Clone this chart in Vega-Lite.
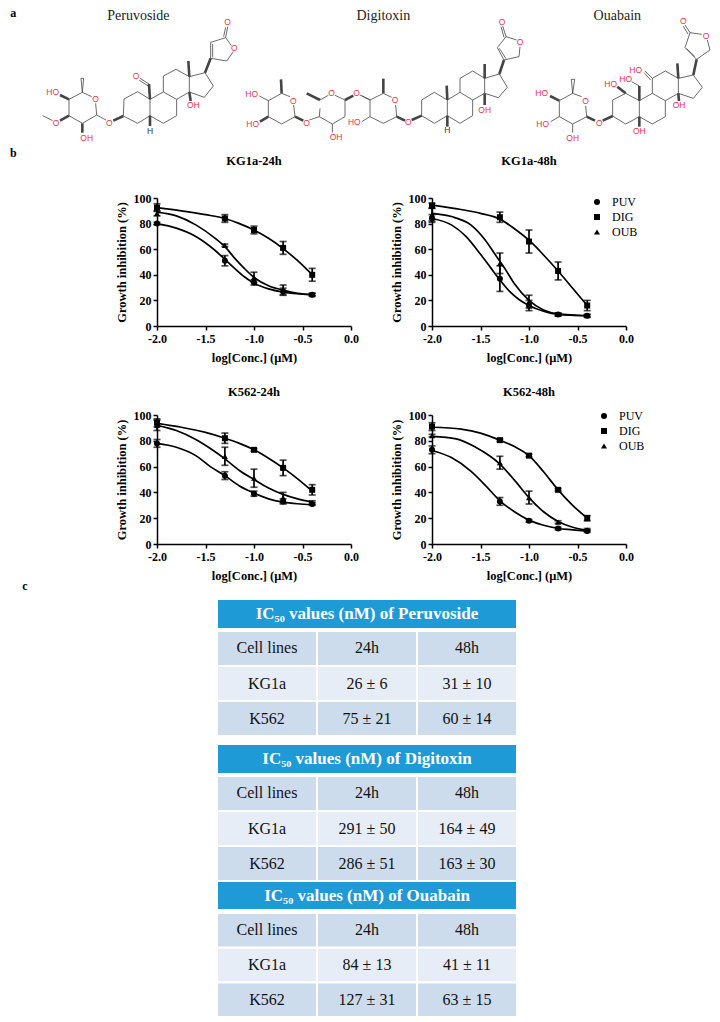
{"$schema":"https://vega.github.io/schema/vega-lite/v6.json","width":720,"height":1022,"padding":0,"autosize":"none","background":"white",
"config":{"view":{"stroke":null},"font":"Liberation Serif","axis":{"grid":false,"labelFont":"Liberation Serif","labelFontWeight":"bold","labelFontSize":12,"labelColor":"black","labelPadding":2,"labelOverlap":false,"labelFlush":false,"titleFont":"Liberation Serif","titleFontWeight":"bold","titleFontSize":12.5,"titleColor":"black","domainColor":"black","domainWidth":1.5,"tickColor":"black","tickWidth":1.5,"tickSize":4},"legend":{"labelFont":"Liberation Serif","labelFontSize":12,"labelColor":"black","symbolSize":36,"rowPadding":3,"labelOffset":9}},
"datasets":{
"curves":[
{"panel":"KG1a-24h","drug":"PUV","conc":-2,"pct":80},{"panel":"KG1a-24h","drug":"PUV","conc":-1.8,"pct":76.5},{"panel":"KG1a-24h","drug":"PUV","conc":-1.6,"pct":70},{"panel":"KG1a-24h","drug":"PUV","conc":-1.4,"pct":59},{"panel":"KG1a-24h","drug":"PUV","conc":-1.3,"pct":52},{"panel":"KG1a-24h","drug":"PUV","conc":-1.2,"pct":45},{"panel":"KG1a-24h","drug":"PUV","conc":-1.1,"pct":38.5},{"panel":"KG1a-24h","drug":"PUV","conc":-1,"pct":33.5},{"panel":"KG1a-24h","drug":"PUV","conc":-0.85,"pct":29},{"panel":"KG1a-24h","drug":"PUV","conc":-0.7,"pct":26.5},{"panel":"KG1a-24h","drug":"PUV","conc":-0.55,"pct":25.2},{"panel":"KG1a-24h","drug":"PUV","conc":-0.4,"pct":24.5},
{"panel":"KG1a-24h","drug":"DIG","conc":-2,"pct":92.5},{"panel":"KG1a-24h","drug":"DIG","conc":-1.75,"pct":90},{"panel":"KG1a-24h","drug":"DIG","conc":-1.5,"pct":87},{"panel":"KG1a-24h","drug":"DIG","conc":-1.3,"pct":84},{"panel":"KG1a-24h","drug":"DIG","conc":-1.15,"pct":80},{"panel":"KG1a-24h","drug":"DIG","conc":-1,"pct":75},{"panel":"KG1a-24h","drug":"DIG","conc":-0.85,"pct":68.5},{"panel":"KG1a-24h","drug":"DIG","conc":-0.7,"pct":60.5},{"panel":"KG1a-24h","drug":"DIG","conc":-0.55,"pct":51},{"panel":"KG1a-24h","drug":"DIG","conc":-0.4,"pct":40},
{"panel":"KG1a-24h","drug":"OUB","conc":-2,"pct":89},{"panel":"KG1a-24h","drug":"OUB","conc":-1.8,"pct":86},{"panel":"KG1a-24h","drug":"OUB","conc":-1.6,"pct":79},{"panel":"KG1a-24h","drug":"OUB","conc":-1.4,"pct":68.5},{"panel":"KG1a-24h","drug":"OUB","conc":-1.3,"pct":62},{"panel":"KG1a-24h","drug":"OUB","conc":-1.2,"pct":53},{"panel":"KG1a-24h","drug":"OUB","conc":-1.1,"pct":45},{"panel":"KG1a-24h","drug":"OUB","conc":-1,"pct":38},{"panel":"KG1a-24h","drug":"OUB","conc":-0.85,"pct":31.5},{"panel":"KG1a-24h","drug":"OUB","conc":-0.7,"pct":28},{"panel":"KG1a-24h","drug":"OUB","conc":-0.55,"pct":25.5},{"panel":"KG1a-24h","drug":"OUB","conc":-0.4,"pct":24.5},
{"panel":"KG1a-48h","drug":"PUV","conc":-2,"pct":84},{"panel":"KG1a-48h","drug":"PUV","conc":-1.8,"pct":79},{"panel":"KG1a-48h","drug":"PUV","conc":-1.65,"pct":70},{"panel":"KG1a-48h","drug":"PUV","conc":-1.5,"pct":56},{"panel":"KG1a-48h","drug":"PUV","conc":-1.4,"pct":46},{"panel":"KG1a-48h","drug":"PUV","conc":-1.3,"pct":36},{"panel":"KG1a-48h","drug":"PUV","conc":-1.2,"pct":27},{"panel":"KG1a-48h","drug":"PUV","conc":-1.1,"pct":20.5},{"panel":"KG1a-48h","drug":"PUV","conc":-1,"pct":16},{"panel":"KG1a-48h","drug":"PUV","conc":-0.85,"pct":11.5},{"panel":"KG1a-48h","drug":"PUV","conc":-0.7,"pct":9},{"panel":"KG1a-48h","drug":"PUV","conc":-0.4,"pct":8},
{"panel":"KG1a-48h","drug":"DIG","conc":-2,"pct":94.5},{"panel":"KG1a-48h","drug":"DIG","conc":-1.7,"pct":91},{"panel":"KG1a-48h","drug":"DIG","conc":-1.5,"pct":88},{"panel":"KG1a-48h","drug":"DIG","conc":-1.3,"pct":83.5},{"panel":"KG1a-48h","drug":"DIG","conc":-1.15,"pct":76},{"panel":"KG1a-48h","drug":"DIG","conc":-1,"pct":67},{"panel":"KG1a-48h","drug":"DIG","conc":-0.85,"pct":55.5},{"panel":"KG1a-48h","drug":"DIG","conc":-0.7,"pct":43},{"panel":"KG1a-48h","drug":"DIG","conc":-0.55,"pct":29.5},{"panel":"KG1a-48h","drug":"DIG","conc":-0.4,"pct":16},
{"panel":"KG1a-48h","drug":"OUB","conc":-2,"pct":88},{"panel":"KG1a-48h","drug":"OUB","conc":-1.8,"pct":85.5},{"panel":"KG1a-48h","drug":"OUB","conc":-1.6,"pct":79},{"panel":"KG1a-48h","drug":"OUB","conc":-1.45,"pct":67},{"panel":"KG1a-48h","drug":"OUB","conc":-1.35,"pct":56},{"panel":"KG1a-48h","drug":"OUB","conc":-1.25,"pct":45},{"panel":"KG1a-48h","drug":"OUB","conc":-1.15,"pct":33},{"panel":"KG1a-48h","drug":"OUB","conc":-1,"pct":20},{"panel":"KG1a-48h","drug":"OUB","conc":-0.85,"pct":12.5},{"panel":"KG1a-48h","drug":"OUB","conc":-0.7,"pct":9.5},{"panel":"KG1a-48h","drug":"OUB","conc":-0.4,"pct":8},
{"panel":"K562-24h","drug":"PUV","conc":-2,"pct":78},{"panel":"K562-24h","drug":"PUV","conc":-1.8,"pct":75},{"panel":"K562-24h","drug":"PUV","conc":-1.6,"pct":68.5},{"panel":"K562-24h","drug":"PUV","conc":-1.45,"pct":60},{"panel":"K562-24h","drug":"PUV","conc":-1.3,"pct":53},{"panel":"K562-24h","drug":"PUV","conc":-1.15,"pct":45},{"panel":"K562-24h","drug":"PUV","conc":-1,"pct":39.5},{"panel":"K562-24h","drug":"PUV","conc":-0.85,"pct":35},{"panel":"K562-24h","drug":"PUV","conc":-0.7,"pct":32.5},{"panel":"K562-24h","drug":"PUV","conc":-0.55,"pct":31.2},{"panel":"K562-24h","drug":"PUV","conc":-0.4,"pct":30.5},
{"panel":"K562-24h","drug":"DIG","conc":-2,"pct":93.5},{"panel":"K562-24h","drug":"DIG","conc":-1.75,"pct":90.5},{"panel":"K562-24h","drug":"DIG","conc":-1.5,"pct":86.5},{"panel":"K562-24h","drug":"DIG","conc":-1.3,"pct":82},{"panel":"K562-24h","drug":"DIG","conc":-1.15,"pct":78},{"panel":"K562-24h","drug":"DIG","conc":-1,"pct":73},{"panel":"K562-24h","drug":"DIG","conc":-0.85,"pct":66.5},{"panel":"K562-24h","drug":"DIG","conc":-0.7,"pct":59},{"panel":"K562-24h","drug":"DIG","conc":-0.55,"pct":50.5},{"panel":"K562-24h","drug":"DIG","conc":-0.4,"pct":41},
{"panel":"K562-24h","drug":"OUB","conc":-2,"pct":92},{"panel":"K562-24h","drug":"OUB","conc":-1.8,"pct":88},{"panel":"K562-24h","drug":"OUB","conc":-1.6,"pct":81},{"panel":"K562-24h","drug":"OUB","conc":-1.45,"pct":74},{"panel":"K562-24h","drug":"OUB","conc":-1.3,"pct":66},{"panel":"K562-24h","drug":"OUB","conc":-1.15,"pct":57},{"panel":"K562-24h","drug":"OUB","conc":-1,"pct":50},{"panel":"K562-24h","drug":"OUB","conc":-0.85,"pct":43.5},{"panel":"K562-24h","drug":"OUB","conc":-0.7,"pct":38.5},{"panel":"K562-24h","drug":"OUB","conc":-0.55,"pct":35},{"panel":"K562-24h","drug":"OUB","conc":-0.4,"pct":32.5},
{"panel":"K562-48h","drug":"PUV","conc":-2,"pct":72.5},{"panel":"K562-48h","drug":"PUV","conc":-1.8,"pct":67},{"panel":"K562-48h","drug":"PUV","conc":-1.6,"pct":56.5},{"panel":"K562-48h","drug":"PUV","conc":-1.45,"pct":45.5},{"panel":"K562-48h","drug":"PUV","conc":-1.3,"pct":33.5},{"panel":"K562-48h","drug":"PUV","conc":-1.15,"pct":25},{"panel":"K562-48h","drug":"PUV","conc":-1,"pct":18.5},{"panel":"K562-48h","drug":"PUV","conc":-0.85,"pct":14.5},{"panel":"K562-48h","drug":"PUV","conc":-0.7,"pct":12},{"panel":"K562-48h","drug":"PUV","conc":-0.55,"pct":11},{"panel":"K562-48h","drug":"PUV","conc":-0.4,"pct":10},
{"panel":"K562-48h","drug":"DIG","conc":-2,"pct":90.5},{"panel":"K562-48h","drug":"DIG","conc":-1.7,"pct":89},{"panel":"K562-48h","drug":"DIG","conc":-1.5,"pct":86},{"panel":"K562-48h","drug":"DIG","conc":-1.3,"pct":80.5},{"panel":"K562-48h","drug":"DIG","conc":-1.15,"pct":75.5},{"panel":"K562-48h","drug":"DIG","conc":-1,"pct":68.5},{"panel":"K562-48h","drug":"DIG","conc":-0.85,"pct":56},{"panel":"K562-48h","drug":"DIG","conc":-0.7,"pct":42},{"panel":"K562-48h","drug":"DIG","conc":-0.55,"pct":30},{"panel":"K562-48h","drug":"DIG","conc":-0.4,"pct":20},
{"panel":"K562-48h","drug":"OUB","conc":-2,"pct":83.5},{"panel":"K562-48h","drug":"OUB","conc":-1.75,"pct":81.5},{"panel":"K562-48h","drug":"OUB","conc":-1.55,"pct":75},{"panel":"K562-48h","drug":"OUB","conc":-1.4,"pct":68},{"panel":"K562-48h","drug":"OUB","conc":-1.3,"pct":62},{"panel":"K562-48h","drug":"OUB","conc":-1.15,"pct":49.5},{"panel":"K562-48h","drug":"OUB","conc":-1,"pct":36},{"panel":"K562-48h","drug":"OUB","conc":-0.85,"pct":25},{"panel":"K562-48h","drug":"OUB","conc":-0.7,"pct":17.5},{"panel":"K562-48h","drug":"OUB","conc":-0.55,"pct":13},{"panel":"K562-48h","drug":"OUB","conc":-0.4,"pct":10.5}
],
"obs":[
{"panel":"KG1a-24h","drug":"PUV","conc":-2,"pct":80,"low":79,"high":81},{"panel":"KG1a-24h","drug":"PUV","conc":-1.3,"pct":51,"low":47,"high":55},{"panel":"KG1a-24h","drug":"PUV","conc":-1,"pct":34,"low":32,"high":36},{"panel":"KG1a-24h","drug":"PUV","conc":-0.7,"pct":27,"low":24.5,"high":29.5},{"panel":"KG1a-24h","drug":"PUV","conc":-0.4,"pct":24.5,"low":23.5,"high":25.5},
{"panel":"KG1a-24h","drug":"DIG","conc":-2,"pct":92.5,"low":89.5,"high":95.5},{"panel":"KG1a-24h","drug":"DIG","conc":-1.3,"pct":84,"low":81,"high":87},{"panel":"KG1a-24h","drug":"DIG","conc":-1,"pct":75,"low":72,"high":78},{"panel":"KG1a-24h","drug":"DIG","conc":-0.7,"pct":61,"low":56,"high":66},{"panel":"KG1a-24h","drug":"DIG","conc":-0.4,"pct":40,"low":35,"high":45},
{"panel":"KG1a-24h","drug":"OUB","conc":-2,"pct":88,"low":86,"high":90},{"panel":"KG1a-24h","drug":"OUB","conc":-1.3,"pct":63,"low":62,"high":64},{"panel":"KG1a-24h","drug":"OUB","conc":-1,"pct":38,"low":34,"high":42},{"panel":"KG1a-24h","drug":"OUB","conc":-0.7,"pct":28,"low":24,"high":32},{"panel":"KG1a-24h","drug":"OUB","conc":-0.4,"pct":24.5,"low":23.5,"high":25.5},
{"panel":"KG1a-48h","drug":"PUV","conc":-2,"pct":84,"low":81,"high":87},{"panel":"KG1a-48h","drug":"PUV","conc":-1.3,"pct":37,"low":27,"high":47},{"panel":"KG1a-48h","drug":"PUV","conc":-1,"pct":16,"low":12,"high":20},{"panel":"KG1a-48h","drug":"PUV","conc":-0.7,"pct":9,"low":8,"high":10},{"panel":"KG1a-48h","drug":"PUV","conc":-0.4,"pct":8,"low":7,"high":9},
{"panel":"KG1a-48h","drug":"DIG","conc":-2,"pct":94,"low":92,"high":96},{"panel":"KG1a-48h","drug":"DIG","conc":-1.3,"pct":85,"low":81,"high":89},{"panel":"KG1a-48h","drug":"DIG","conc":-1,"pct":66,"low":57,"high":75},{"panel":"KG1a-48h","drug":"DIG","conc":-0.7,"pct":43,"low":36,"high":50},{"panel":"KG1a-48h","drug":"DIG","conc":-0.4,"pct":16,"low":12,"high":20},
{"panel":"KG1a-48h","drug":"OUB","conc":-2,"pct":87,"low":82,"high":92},{"panel":"KG1a-48h","drug":"OUB","conc":-1.3,"pct":49,"low":41,"high":57},{"panel":"KG1a-48h","drug":"OUB","conc":-1,"pct":19,"low":14,"high":24},{"panel":"KG1a-48h","drug":"OUB","conc":-0.7,"pct":9,"low":8,"high":10},{"panel":"KG1a-48h","drug":"OUB","conc":-0.4,"pct":8,"low":7,"high":9},
{"panel":"K562-24h","drug":"PUV","conc":-2,"pct":78,"low":75,"high":81},{"panel":"K562-24h","drug":"PUV","conc":-1.3,"pct":53,"low":50,"high":56},{"panel":"K562-24h","drug":"PUV","conc":-1,"pct":39,"low":37,"high":41},{"panel":"K562-24h","drug":"PUV","conc":-0.7,"pct":33,"low":31,"high":35},{"panel":"K562-24h","drug":"PUV","conc":-0.4,"pct":31,"low":30,"high":32},
{"panel":"K562-24h","drug":"DIG","conc":-2,"pct":94,"low":91,"high":97},{"panel":"K562-24h","drug":"DIG","conc":-1.3,"pct":82,"low":78,"high":86},{"panel":"K562-24h","drug":"DIG","conc":-1,"pct":73,"low":72,"high":74},{"panel":"K562-24h","drug":"DIG","conc":-0.7,"pct":59,"low":53,"high":65},{"panel":"K562-24h","drug":"DIG","conc":-0.4,"pct":42,"low":38,"high":46},
{"panel":"K562-24h","drug":"OUB","conc":-2,"pct":92,"low":88,"high":96},{"panel":"K562-24h","drug":"OUB","conc":-1.3,"pct":68,"low":61,"high":75},{"panel":"K562-24h","drug":"OUB","conc":-1,"pct":51,"low":44,"high":58},{"panel":"K562-24h","drug":"OUB","conc":-0.7,"pct":36,"low":32,"high":40},{"panel":"K562-24h","drug":"OUB","conc":-0.4,"pct":32,"low":30.5,"high":33.5},
{"panel":"K562-48h","drug":"PUV","conc":-2,"pct":73,"low":70,"high":76},{"panel":"K562-48h","drug":"PUV","conc":-1.3,"pct":33,"low":30,"high":36},{"panel":"K562-48h","drug":"PUV","conc":-1,"pct":18,"low":17,"high":19},{"panel":"K562-48h","drug":"PUV","conc":-0.7,"pct":12,"low":11,"high":13},{"panel":"K562-48h","drug":"PUV","conc":-0.4,"pct":10,"low":9,"high":11},
{"panel":"K562-48h","drug":"DIG","conc":-2,"pct":91,"low":88,"high":94},{"panel":"K562-48h","drug":"DIG","conc":-1.3,"pct":80.5,"low":79.5,"high":81.5},{"panel":"K562-48h","drug":"DIG","conc":-1,"pct":68.5,"low":67.5,"high":69.5},{"panel":"K562-48h","drug":"DIG","conc":-0.7,"pct":42,"low":41,"high":43},{"panel":"K562-48h","drug":"DIG","conc":-0.4,"pct":20,"low":18,"high":22},
{"panel":"K562-48h","drug":"OUB","conc":-2,"pct":84,"low":83,"high":85},{"panel":"K562-48h","drug":"OUB","conc":-1.3,"pct":63,"low":58,"high":68},{"panel":"K562-48h","drug":"OUB","conc":-1,"pct":36,"low":31,"high":41},{"panel":"K562-48h","drug":"OUB","conc":-0.7,"pct":17,"low":16,"high":18},{"panel":"K562-48h","drug":"OUB","conc":-0.4,"pct":11,"low":10,"high":12}
],
"cells":[
{"table":"Peruvoside","row":"Cell lines","col":"Cell lines","text":"Cell lines"},{"table":"Peruvoside","row":"Cell lines","col":"24h","text":"24h"},{"table":"Peruvoside","row":"Cell lines","col":"48h","text":"48h"},{"table":"Peruvoside","row":"KG1a","col":"Cell lines","text":"KG1a"},{"table":"Peruvoside","row":"KG1a","col":"24h","text":"26 ± 6"},{"table":"Peruvoside","row":"KG1a","col":"48h","text":"31 ± 10"},{"table":"Peruvoside","row":"K562","col":"Cell lines","text":"K562"},{"table":"Peruvoside","row":"K562","col":"24h","text":"75 ± 21"},{"table":"Peruvoside","row":"K562","col":"48h","text":"60 ± 14"},
{"table":"Digitoxin","row":"Cell lines","col":"Cell lines","text":"Cell lines"},{"table":"Digitoxin","row":"Cell lines","col":"24h","text":"24h"},{"table":"Digitoxin","row":"Cell lines","col":"48h","text":"48h"},{"table":"Digitoxin","row":"KG1a","col":"Cell lines","text":"KG1a"},{"table":"Digitoxin","row":"KG1a","col":"24h","text":"291 ± 50"},{"table":"Digitoxin","row":"KG1a","col":"48h","text":"164 ± 49"},{"table":"Digitoxin","row":"K562","col":"Cell lines","text":"K562"},{"table":"Digitoxin","row":"K562","col":"24h","text":"286 ± 51"},{"table":"Digitoxin","row":"K562","col":"48h","text":"163 ± 30"},
{"table":"Ouabain","row":"Cell lines","col":"Cell lines","text":"Cell lines"},{"table":"Ouabain","row":"Cell lines","col":"24h","text":"24h"},{"table":"Ouabain","row":"Cell lines","col":"48h","text":"48h"},{"table":"Ouabain","row":"KG1a","col":"Cell lines","text":"KG1a"},{"table":"Ouabain","row":"KG1a","col":"24h","text":"84 ± 13"},{"table":"Ouabain","row":"KG1a","col":"48h","text":"41 ± 11"},{"table":"Ouabain","row":"K562","col":"Cell lines","text":"K562"},{"table":"Ouabain","row":"K562","col":"24h","text":"127 ± 31"},{"table":"Ouabain","row":"K562","col":"48h","text":"63 ± 15"}
],
"bonds":[
{"kind":"bond","x":370,"y":348,"x2":372,"y2":297},{"kind":"bond","x":372,"y":297,"x2":413,"y2":275},{"kind":"bond","x":413,"y":275,"x2":450,"y2":298},{"kind":"bond","x":450,"y":298,"x2":450,"y2":347},{"kind":"bond","x":450,"y":347,"x2":413,"y2":370},{"kind":"bond","x":413,"y":370,"x2":370,"y2":348},{"kind":"bond","x":450,"y":298,"x2":490,"y2":276},{"kind":"bond","x":490,"y":276,"x2":530,"y2":298},{"kind":"bond","x":530,"y":298,"x2":530,"y2":347},{"kind":"bond","x":530,"y":347,"x2":490,"y2":370},{"kind":"bond","x":490,"y":370,"x2":450,"y2":347},{"kind":"bond","x":490,"y":276,"x2":490,"y2":228},{"kind":"bond","x":490,"y":228,"x2":528,"y2":208},{"kind":"bond","x":528,"y":208,"x2":568,"y2":230},{"kind":"bond","x":568,"y":230,"x2":568,"y2":276},{"kind":"bond","x":568,"y":276,"x2":530,"y2":298},{"kind":"bond","x":568,"y":230,"x2":615,"y2":218},{"kind":"bond","x":615,"y":218,"x2":640,"y2":258},{"kind":"bond","x":640,"y":258,"x2":613,"y2":292},{"kind":"bond","x":613,"y":292,"x2":568,"y2":276},{"kind":"wedge","x":568,"y":230,"x2":565,"y2":183},{"kind":"wedge","x":568,"y":276,"x2":572,"y2":303},{"kind":"wedge","x":615,"y":218,"x2":632,"y2":175},{"kind":"bond","x":632,"y":175,"x2":632,"y2":127},{"kind":"bond","x":638,"y":172,"x2":638,"y2":132},{"kind":"bond","x":632,"y":127,"x2":677,"y2":113},{"kind":"bond","x":677,"y":113,"x2":694,"y2":137},{"kind":"bond","x":700,"y":155,"x2":680,"y2":183},{"kind":"bond","x":680,"y":183,"x2":632,"y2":175},{"kind":"bond","x":677,"y":113,"x2":683,"y2":80},{"kind":"bond","x":671,"y":110,"x2":677,"y2":82},{"kind":"wedge","x":450,"y":298,"x2":447,"y2":252},{"kind":"bond","x":447,"y":252,"x2":420,"y2":235},{"kind":"bond","x":445,"y":258,"x2":418,"y2":241},{"kind":"wedge","x":450,"y":347,"x2":450,"y2":378},{"kind":"wedge","x":370,"y":348,"x2":340,"y2":362},{"kind":"bond","x":318,"y":360,"x2":290,"y2":345},{"kind":"bond","x":290,"y":345,"x2":287,"y2":310},{"kind":"bond","x":275,"y":290,"x2":247,"y2":277},{"kind":"bond","x":247,"y":277,"x2":207,"y2":298},{"kind":"bond","x":207,"y":298,"x2":207,"y2":347},{"kind":"bond","x":207,"y":347,"x2":247,"y2":370},{"kind":"bond","x":247,"y":370,"x2":290,"y2":345},{"kind":"bond","x":247,"y":277,"x2":243,"y2":235},{"kind":"bond","x":247,"y":277,"x2":251,"y2":235},{"kind":"bond","x":243,"y":235,"x2":251,"y2":235},{"kind":"wedge","x":207,"y":298,"x2":180,"y2":285},{"kind":"wedge","x":207,"y":347,"x2":180,"y2":362},{"kind":"bond","x":158,"y":362,"x2":128,"y2":347},{"kind":"wedge","x":247,"y":370,"x2":247,"y2":398},
{"kind":"bond","x":885,"y":350,"x2":881,"y2":315},{"kind":"bond","x":870,"y":290,"x2":845,"y2":280},{"kind":"bond","x":845,"y":280,"x2":805,"y2":302},{"kind":"bond","x":805,"y":302,"x2":805,"y2":350},{"kind":"bond","x":805,"y":350,"x2":845,"y2":372},{"kind":"bond","x":845,"y":372,"x2":885,"y2":350},{"kind":"wedge","x":845,"y":280,"x2":843,"y2":238},{"kind":"bond","x":805,"y":302,"x2":778,"y2":288},{"kind":"wedge","x":805,"y":350,"x2":780,"y2":365},{"kind":"wedge","x":885,"y":350,"x2":910,"y2":362},{"kind":"bond","x":928,"y":360,"x2":958,"y2":350},{"kind":"bond","x":960,"y":300,"x2":985,"y2":286},{"kind":"bond","x":1005,"y":286,"x2":1035,"y2":300},{"kind":"bond","x":1035,"y":300,"x2":1035,"y2":350},{"kind":"bond","x":1035,"y":350,"x2":997,"y2":372},{"kind":"bond","x":997,"y":372,"x2":958,"y2":350},{"kind":"bond","x":958,"y":350,"x2":960,"y2":325},{"kind":"wedge","x":960,"y":300,"x2":920,"y2":280},{"kind":"wedge","x":1035,"y":300,"x2":1060,"y2":287},{"kind":"bond","x":1080,"y":285,"x2":1110,"y2":300},{"kind":"bond","x":997,"y":372,"x2":997,"y2":398},{"kind":"bond","x":1110,"y":300,"x2":1150,"y2":280},{"kind":"bond","x":1150,"y":280,"x2":1175,"y2":292},{"kind":"bond","x":1187,"y":315,"x2":1190,"y2":350},{"kind":"bond","x":1190,"y":350,"x2":1150,"y2":370},{"kind":"bond","x":1150,"y":370,"x2":1110,"y2":350},{"kind":"bond","x":1110,"y":350,"x2":1110,"y2":300},{"kind":"wedge","x":1150,"y":280,"x2":1150,"y2":236},{"kind":"wedge","x":1190,"y":350,"x2":1215,"y2":362},{"kind":"bond","x":1110,"y":350,"x2":1085,"y2":365},{"kind":"bond","x":1110,"y":300,"x2":1085,"y2":287},{"kind":"wedge","x":1235,"y":360,"x2":1265,"y2":347},{"kind":"bond","x":1265,"y":347,"x2":1265,"y2":300},{"kind":"bond","x":1265,"y":300,"x2":1303,"y2":277},{"kind":"bond","x":1303,"y":277,"x2":1342,"y2":300},{"kind":"bond","x":1342,"y":300,"x2":1342,"y2":347},{"kind":"bond","x":1342,"y":347,"x2":1303,"y2":370},{"kind":"bond","x":1303,"y":370,"x2":1265,"y2":347},{"kind":"bond","x":1342,"y":300,"x2":1380,"y2":277},{"kind":"bond","x":1380,"y":277,"x2":1418,"y2":300},{"kind":"bond","x":1418,"y":300,"x2":1418,"y2":347},{"kind":"bond","x":1418,"y":347,"x2":1380,"y2":370},{"kind":"bond","x":1380,"y":370,"x2":1342,"y2":347},{"kind":"bond","x":1380,"y":277,"x2":1380,"y2":235},{"kind":"bond","x":1380,"y":235,"x2":1418,"y2":213},{"kind":"bond","x":1418,"y":213,"x2":1454,"y2":235},{"kind":"bond","x":1454,"y":235,"x2":1454,"y2":280},{"kind":"bond","x":1454,"y":280,"x2":1418,"y2":300},{"kind":"bond","x":1454,"y":235,"x2":1498,"y2":222},{"kind":"bond","x":1498,"y":222,"x2":1522,"y2":262},{"kind":"bond","x":1522,"y":262,"x2":1495,"y2":293},{"kind":"bond","x":1495,"y":293,"x2":1454,"y2":280},{"kind":"wedge","x":1342,"y":300,"x2":1340,"y2":257},{"kind":"wedge","x":1342,"y":347,"x2":1342,"y2":380},{"kind":"wedge","x":1454,"y":235,"x2":1454,"y2":192},{"kind":"wedge","x":1454,"y":280,"x2":1454,"y2":315},{"kind":"wedge","x":1498,"y":222,"x2":1512,"y2":180},{"kind":"bond","x":1512,"y":180,"x2":1492,"y2":143},{"kind":"bond","x":1518,"y":176,"x2":1498,"y2":145},{"kind":"bond","x":1492,"y":143,"x2":1518,"y2":110},{"kind":"bond","x":1518,"y":110,"x2":1550,"y2":120},{"kind":"bond","x":1560,"y":140,"x2":1557,"y2":170},{"kind":"bond","x":1557,"y":170,"x2":1512,"y2":180},{"kind":"bond","x":1518,"y":110,"x2":1508,"y2":78},{"kind":"bond","x":1512,"y":112,"x2":1503,"y2":80},
{"kind":"bond","x":1760,"y":350,"x2":1757,"y2":318},{"kind":"bond","x":1745,"y":290,"x2":1718,"y2":280},{"kind":"bond","x":1718,"y":280,"x2":1678,"y2":302},{"kind":"bond","x":1678,"y":302,"x2":1678,"y2":350},{"kind":"bond","x":1678,"y":350,"x2":1718,"y2":372},{"kind":"bond","x":1718,"y":372,"x2":1760,"y2":350},{"kind":"bond","x":1718,"y":280,"x2":1714,"y2":238},{"kind":"bond","x":1718,"y":280,"x2":1724,"y2":238},{"kind":"bond","x":1714,"y":238,"x2":1724,"y2":238},{"kind":"wedge","x":1678,"y":302,"x2":1650,"y2":288},{"kind":"bond","x":1678,"y":350,"x2":1652,"y2":365},{"kind":"bond","x":1718,"y":372,"x2":1718,"y2":398},{"kind":"wedge","x":1760,"y":350,"x2":1785,"y2":362},{"kind":"wedge","x":1808,"y":362,"x2":1838,"y2":348},{"kind":"bond","x":1838,"y":348,"x2":1838,"y2":300},{"kind":"bond","x":1838,"y":300,"x2":1877,"y2":280},{"kind":"bond","x":1877,"y":280,"x2":1918,"y2":302},{"kind":"bond","x":1918,"y":302,"x2":1918,"y2":350},{"kind":"bond","x":1918,"y":350,"x2":1877,"y2":372},{"kind":"bond","x":1877,"y":372,"x2":1838,"y2":348},{"kind":"bond","x":1918,"y":302,"x2":1957,"y2":280},{"kind":"bond","x":1957,"y":280,"x2":1996,"y2":302},{"kind":"bond","x":1996,"y":302,"x2":1996,"y2":350},{"kind":"bond","x":1996,"y":350,"x2":1957,"y2":372},{"kind":"bond","x":1957,"y":372,"x2":1918,"y2":350},{"kind":"bond","x":1957,"y":280,"x2":1957,"y2":235},{"kind":"bond","x":1957,"y":235,"x2":1996,"y2":213},{"kind":"bond","x":1996,"y":213,"x2":2035,"y2":235},{"kind":"bond","x":2035,"y":235,"x2":2035,"y2":280},{"kind":"bond","x":2035,"y":280,"x2":1996,"y2":302},{"kind":"bond","x":2035,"y":235,"x2":2080,"y2":225},{"kind":"bond","x":2080,"y":225,"x2":2107,"y2":262},{"kind":"bond","x":2107,"y":262,"x2":2080,"y2":295},{"kind":"bond","x":2080,"y":295,"x2":2035,"y2":280},{"kind":"wedge","x":2035,"y":235,"x2":2032,"y2":190},{"kind":"wedge","x":2035,"y":280,"x2":2037,"y2":303},{"kind":"wedge","x":2080,"y":225,"x2":2090,"y2":178},{"kind":"bond","x":2090,"y":178,"x2":2055,"y2":143},{"kind":"bond","x":2085,"y":170,"x2":2060,"y2":146},{"kind":"bond","x":2055,"y":143,"x2":2070,"y2":98},{"kind":"bond","x":2070,"y":98,"x2":2105,"y2":103},{"kind":"bond","x":2122,"y":120,"x2":2130,"y2":150},{"kind":"bond","x":2130,"y":150,"x2":2090,"y2":178},{"kind":"bond","x":2070,"y":98,"x2":2055,"y2":75},{"kind":"bond","x":2064,"y":102,"x2":2050,"y2":79},{"kind":"wedge","x":1877,"y":280,"x2":1852,"y2":260},{"kind":"wedge","x":1918,"y":302,"x2":1918,"y2":258},{"kind":"bond","x":1918,"y":258,"x2":1895,"y2":245},{"kind":"bond","x":1957,"y":235,"x2":1935,"y2":213},{"kind":"bond","x":1952,"y":240,"x2":1932,"y2":218},{"kind":"wedge","x":1918,"y":350,"x2":1918,"y2":380}
],
"atoms":[
{"atom":"HO","x":158,"y":276,"el":"hetero"},{"atom":"O","x":287,"y":298,"el":"hetero"},{"atom":"O","x":328,"y":368,"el":"hetero"},{"atom":"O","x":168,"y":368,"el":"hetero"},{"atom":"OH","x":260,"y":413,"el":"hetero"},{"atom":"O","x":408,"y":228,"el":"hetero"},{"atom":"OH","x":580,"y":316,"el":"hetero"},{"atom":"O","x":683,"y":65,"el":"hetero"},{"atom":"O","x":703,"y":145,"el":"hetero"},{"atom":"H","x":450,"y":392,"el":"carbon"},
{"atom":"HO","x":755,"y":282,"el":"hetero"},{"atom":"O","x":880,"y":302,"el":"hetero"},{"atom":"HO","x":758,"y":372,"el":"hetero"},{"atom":"O","x":920,"y":368,"el":"hetero"},{"atom":"O","x":995,"y":280,"el":"hetero"},{"atom":"O","x":1070,"y":278,"el":"hetero"},{"atom":"OH","x":1008,"y":412,"el":"hetero"},{"atom":"O","x":1185,"y":300,"el":"hetero"},{"atom":"HO","x":1063,"y":367,"el":"hetero"},{"atom":"O","x":1225,"y":367,"el":"hetero"},{"atom":"H","x":1342,"y":390,"el":"carbon"},{"atom":"OH","x":1454,"y":330,"el":"hetero"},{"atom":"O","x":1560,"y":125,"el":"hetero"},{"atom":"O","x":1506,"y":65,"el":"hetero"},
{"atom":"HO","x":1625,"y":280,"el":"hetero"},{"atom":"O","x":1757,"y":302,"el":"hetero"},{"atom":"HO","x":1628,"y":372,"el":"hetero"},{"atom":"OH","x":1718,"y":415,"el":"hetero"},{"atom":"O","x":1798,"y":370,"el":"hetero"},{"atom":"HO","x":1832,"y":252,"el":"hetero"},{"atom":"HO","x":1877,"y":237,"el":"hetero"},{"atom":"HO","x":1907,"y":210,"el":"hetero"},{"atom":"OH","x":1918,"y":393,"el":"hetero"},{"atom":"OH","x":2037,"y":315,"el":"hetero"},{"atom":"O","x":2050,"y":62,"el":"hetero"},{"atom":"O","x":2118,"y":107,"el":"hetero"}
]
},
"layer":[
{"layer":[
{"data":{"name":"bonds"},"mark":{"type":"rule","color":"#444444"},"encoding":{"x":{"field":"x","type":"quantitative","scale":{"domain":[0,2160],"range":[0,720],"nice":false},"axis":null},"y":{"field":"y","type":"quantitative","scale":{"domain":[0,3066],"range":[0,1022],"nice":false},"axis":null},"x2":{"field":"x2"},"y2":{"field":"y2"},"strokeWidth":{"field":"kind","type":"nominal","scale":{"domain":["bond","wedge"],"range":[0.8,2.6]},"legend":null}}},
{"data":{"name":"atoms"},"mark":{"type":"text","font":"Liberation Sans","fontSize":8.5,"align":"center","baseline":"middle"},"encoding":{"x":{"field":"x","type":"quantitative","axis":null},"y":{"field":"y","type":"quantitative","axis":null},"text":{"field":"atom"},"fill":{"condition":{"test":"datum.el==='carbon'","value":"#333333"},"value":"#F0304A"}}},
{"data":{"values":[{"label":"Peruvoside","x":415,"y":47},{"label":"Digitoxin","x":1150,"y":47},{"label":"Ouabain","x":1852,"y":47}]},"mark":{"type":"text","font":"Liberation Serif","fontSize":14,"color":"#222222","align":"center","baseline":"middle"},"encoding":{"x":{"field":"x","type":"quantitative","axis":null},"y":{"field":"y","type":"quantitative","axis":null},"text":{"field":"label"}}},
{"data":{"values":[{"label":"a","x":40,"y":38},{"label":"b","x":40,"y":460},{"label":"c","x":75,"y":1758}]},"mark":{"type":"text","font":"Liberation Serif","fontSize":12,"fontWeight":"bold","color":"black","align":"center","baseline":"middle"},"encoding":{"x":{"field":"x","type":"quantitative","axis":null},"y":{"field":"y","type":"quantitative","axis":null},"text":{"field":"label"}}}
]},
{"layer":[
{"data":{"name":"curves"},"transform":[{"filter":"datum.panel==='KG1a-24h'"}],"mark":{"type":"line","interpolate":"monotone","color":"black","strokeWidth":1.7},"encoding":{"x":{"field":"conc","type":"quantitative","scale":{"domain":[-2,0],"range":[157,351],"nice":false},"axis":{"orient":"bottom","offset":-696,"values":[-2,-1.5,-1,-0.5,0],"format":".1f","labelExpr":"replace(datum.label,'−','-')","title":"log[Conc.] (μM)","labelPadding":3,"titlePadding":7}},"y":{"field":"pct","type":"quantitative","scale":{"domain":[0,100],"range":[326,198],"nice":false},"axis":{"orient":"left","offset":-157,"values":[0,20,40,60,80,100],"title":"Growth inhibition (%)","titlePadding":5}},"detail":{"field":"drug"}}},
{"data":{"name":"obs"},"transform":[{"filter":"datum.panel==='KG1a-24h'"}],"mark":{"type":"rule","color":"black","strokeWidth":1.7},"encoding":{"x":{"field":"conc","type":"quantitative"},"y":{"field":"low","type":"quantitative"},"y2":{"field":"high"}}},
{"data":{"name":"obs"},"transform":[{"filter":"datum.panel==='KG1a-24h'"}],"mark":{"type":"tick","orient":"horizontal","size":7,"thickness":1.7,"color":"black"},"encoding":{"x":{"field":"conc","type":"quantitative"},"y":{"field":"low","type":"quantitative"}}},
{"data":{"name":"obs"},"transform":[{"filter":"datum.panel==='KG1a-24h'"}],"mark":{"type":"tick","orient":"horizontal","size":7,"thickness":1.7,"color":"black"},"encoding":{"x":{"field":"conc","type":"quantitative"},"y":{"field":"high","type":"quantitative"}}},
{"data":{"name":"obs"},"transform":[{"filter":"datum.panel==='KG1a-24h'"}],"mark":{"type":"point","filled":true,"size":36,"opacity":1,"color":"black"},"encoding":{"x":{"field":"conc","type":"quantitative"},"y":{"field":"pct","type":"quantitative"},"shape":{"field":"drug","type":"nominal","scale":{"domain":["PUV","DIG","OUB"],"range":["circle","square","triangle-up"]},"legend":null}}},
{"data":{"values":[{"panel":"KG1a-24h"}]},"mark":{"type":"text","font":"Liberation Serif","fontWeight":"bold","fontSize":12.5,"color":"black","baseline":"middle"},"encoding":{"x":{"datum":-1,"type":"quantitative"},"y":{"datum":129,"type":"quantitative"},"text":{"field":"panel"}}}
]},
{"layer":[
{"data":{"name":"curves"},"transform":[{"filter":"datum.panel==='KG1a-48h'"}],"mark":{"type":"line","interpolate":"monotone","color":"black","strokeWidth":1.7},"encoding":{"x":{"field":"conc","type":"quantitative","scale":{"domain":[-2,0],"range":[432,626],"nice":false},"axis":{"orient":"bottom","offset":-696,"values":[-2,-1.5,-1,-0.5,0],"format":".1f","labelExpr":"replace(datum.label,'−','-')","title":"log[Conc.] (μM)","labelPadding":3,"titlePadding":7}},"y":{"field":"pct","type":"quantitative","scale":{"domain":[0,100],"range":[326,198],"nice":false},"axis":{"orient":"left","offset":-432,"values":[0,20,40,60,80,100],"title":"Growth inhibition (%)","titlePadding":5}},"detail":{"field":"drug"}}},
{"data":{"name":"obs"},"transform":[{"filter":"datum.panel==='KG1a-48h'"}],"mark":{"type":"rule","color":"black","strokeWidth":1.7},"encoding":{"x":{"field":"conc","type":"quantitative"},"y":{"field":"low","type":"quantitative"},"y2":{"field":"high"}}},
{"data":{"name":"obs"},"transform":[{"filter":"datum.panel==='KG1a-48h'"}],"mark":{"type":"tick","orient":"horizontal","size":7,"thickness":1.7,"color":"black"},"encoding":{"x":{"field":"conc","type":"quantitative"},"y":{"field":"low","type":"quantitative"}}},
{"data":{"name":"obs"},"transform":[{"filter":"datum.panel==='KG1a-48h'"}],"mark":{"type":"tick","orient":"horizontal","size":7,"thickness":1.7,"color":"black"},"encoding":{"x":{"field":"conc","type":"quantitative"},"y":{"field":"high","type":"quantitative"}}},
{"data":{"name":"obs"},"transform":[{"filter":"datum.panel==='KG1a-48h'"}],"mark":{"type":"point","filled":true,"size":36,"opacity":1,"color":"black"},"encoding":{"x":{"field":"conc","type":"quantitative"},"y":{"field":"pct","type":"quantitative"},"shape":{"field":"drug","type":"nominal","scale":{"domain":["PUV","DIG","OUB"],"range":["circle","square","triangle-up"]},"legend":{"orient":"none","legendX":591,"legendY":196,"title":null}}}},
{"data":{"values":[{"panel":"KG1a-48h"}]},"mark":{"type":"text","font":"Liberation Serif","fontWeight":"bold","fontSize":12.5,"color":"black","baseline":"middle"},"encoding":{"x":{"datum":-1,"type":"quantitative"},"y":{"datum":129,"type":"quantitative"},"text":{"field":"panel"}}}
]},
{"layer":[
{"data":{"name":"curves"},"transform":[{"filter":"datum.panel==='K562-24h'"}],"mark":{"type":"line","interpolate":"monotone","color":"black","strokeWidth":1.7},"encoding":{"x":{"field":"conc","type":"quantitative","scale":{"domain":[-2,0],"range":[157,351],"nice":false},"axis":{"orient":"bottom","offset":-478,"values":[-2,-1.5,-1,-0.5,0],"format":".1f","labelExpr":"replace(datum.label,'−','-')","title":"log[Conc.] (μM)","labelPadding":3,"titlePadding":7}},"y":{"field":"pct","type":"quantitative","scale":{"domain":[0,100],"range":[544,415],"nice":false},"axis":{"orient":"left","offset":-157,"values":[0,20,40,60,80,100],"title":"Growth inhibition (%)","titlePadding":5}},"detail":{"field":"drug"}}},
{"data":{"name":"obs"},"transform":[{"filter":"datum.panel==='K562-24h'"}],"mark":{"type":"rule","color":"black","strokeWidth":1.7},"encoding":{"x":{"field":"conc","type":"quantitative"},"y":{"field":"low","type":"quantitative"},"y2":{"field":"high"}}},
{"data":{"name":"obs"},"transform":[{"filter":"datum.panel==='K562-24h'"}],"mark":{"type":"tick","orient":"horizontal","size":7,"thickness":1.7,"color":"black"},"encoding":{"x":{"field":"conc","type":"quantitative"},"y":{"field":"low","type":"quantitative"}}},
{"data":{"name":"obs"},"transform":[{"filter":"datum.panel==='K562-24h'"}],"mark":{"type":"tick","orient":"horizontal","size":7,"thickness":1.7,"color":"black"},"encoding":{"x":{"field":"conc","type":"quantitative"},"y":{"field":"high","type":"quantitative"}}},
{"data":{"name":"obs"},"transform":[{"filter":"datum.panel==='K562-24h'"}],"mark":{"type":"point","filled":true,"size":36,"opacity":1,"color":"black"},"encoding":{"x":{"field":"conc","type":"quantitative"},"y":{"field":"pct","type":"quantitative"},"shape":{"field":"drug","type":"nominal","scale":{"domain":["PUV","DIG","OUB"],"range":["circle","square","triangle-up"]},"legend":null}}},
{"data":{"values":[{"panel":"K562-24h"}]},"mark":{"type":"text","font":"Liberation Serif","fontWeight":"bold","fontSize":12.5,"color":"black","baseline":"middle"},"encoding":{"x":{"datum":-1,"type":"quantitative"},"y":{"datum":118,"type":"quantitative"},"text":{"field":"panel"}}}
]},
{"layer":[
{"data":{"name":"curves"},"transform":[{"filter":"datum.panel==='K562-48h'"}],"mark":{"type":"line","interpolate":"monotone","color":"black","strokeWidth":1.7},"encoding":{"x":{"field":"conc","type":"quantitative","scale":{"domain":[-2,0],"range":[432,626],"nice":false},"axis":{"orient":"bottom","offset":-478,"values":[-2,-1.5,-1,-0.5,0],"format":".1f","labelExpr":"replace(datum.label,'−','-')","title":"log[Conc.] (μM)","labelPadding":3,"titlePadding":7}},"y":{"field":"pct","type":"quantitative","scale":{"domain":[0,100],"range":[544,415],"nice":false},"axis":{"orient":"left","offset":-432,"values":[0,20,40,60,80,100],"title":"Growth inhibition (%)","titlePadding":5}},"detail":{"field":"drug"}}},
{"data":{"name":"obs"},"transform":[{"filter":"datum.panel==='K562-48h'"}],"mark":{"type":"rule","color":"black","strokeWidth":1.7},"encoding":{"x":{"field":"conc","type":"quantitative"},"y":{"field":"low","type":"quantitative"},"y2":{"field":"high"}}},
{"data":{"name":"obs"},"transform":[{"filter":"datum.panel==='K562-48h'"}],"mark":{"type":"tick","orient":"horizontal","size":7,"thickness":1.7,"color":"black"},"encoding":{"x":{"field":"conc","type":"quantitative"},"y":{"field":"low","type":"quantitative"}}},
{"data":{"name":"obs"},"transform":[{"filter":"datum.panel==='K562-48h'"}],"mark":{"type":"tick","orient":"horizontal","size":7,"thickness":1.7,"color":"black"},"encoding":{"x":{"field":"conc","type":"quantitative"},"y":{"field":"high","type":"quantitative"}}},
{"data":{"name":"obs"},"transform":[{"filter":"datum.panel==='K562-48h'"}],"mark":{"type":"point","filled":true,"size":36,"opacity":1,"color":"black"},"encoding":{"x":{"field":"conc","type":"quantitative"},"y":{"field":"pct","type":"quantitative"},"shape":{"field":"drug","type":"nominal","scale":{"domain":["PUV","DIG","OUB"],"range":["circle","square","triangle-up"]},"legend":{"orient":"none","legendX":598,"legendY":410,"title":null}}}},
{"data":{"values":[{"panel":"K562-48h"}]},"mark":{"type":"text","font":"Liberation Serif","fontWeight":"bold","fontSize":12.5,"color":"black","baseline":"middle"},"encoding":{"x":{"datum":-1,"type":"quantitative"},"y":{"datum":118,"type":"quantitative"},"text":{"field":"panel"}}}
]},
{"layer":[
{"data":{"values":[{"title":"IC₅₀ values (nM) of Peruvoside"}]},"mark":{"type":"rect","color":"#1E9AD6"},"encoding":{"x":{"field":"title","type":"nominal","scale":{"range":[218,516],"paddingInner":0,"paddingOuter":0},"axis":null},"y":{"field":"title","type":"nominal","scale":{"range":[600,628],"paddingInner":0,"paddingOuter":0},"axis":null}}},
{"data":{"values":[{"title":"IC₅₀ values (nM) of Peruvoside"}]},"mark":{"type":"text","font":"Liberation Serif","fontWeight":"bold","fontSize":17,"color":"white"},"encoding":{"x":{"field":"title","type":"nominal","axis":null},"y":{"field":"title","type":"nominal","axis":null},"text":{"field":"title"}}}
]},
{"layer":[
{"data":{"values":[{"title":"IC₅₀ values (nM) of Digitoxin"}]},"mark":{"type":"rect","color":"#1E9AD6"},"encoding":{"x":{"field":"title","type":"nominal","scale":{"range":[218,516],"paddingInner":0,"paddingOuter":0},"axis":null},"y":{"field":"title","type":"nominal","scale":{"range":[745,773],"paddingInner":0,"paddingOuter":0},"axis":null}}},
{"data":{"values":[{"title":"IC₅₀ values (nM) of Digitoxin"}]},"mark":{"type":"text","font":"Liberation Serif","fontWeight":"bold","fontSize":17,"color":"white"},"encoding":{"x":{"field":"title","type":"nominal","axis":null},"y":{"field":"title","type":"nominal","axis":null},"text":{"field":"title"}}}
]},
{"layer":[
{"data":{"values":[{"title":"IC₅₀ values (nM) of Ouabain"}]},"mark":{"type":"rect","color":"#1E9AD6"},"encoding":{"x":{"field":"title","type":"nominal","scale":{"range":[218,516],"paddingInner":0,"paddingOuter":0},"axis":null},"y":{"field":"title","type":"nominal","scale":{"range":[882,909],"paddingInner":0,"paddingOuter":0},"axis":null}}},
{"data":{"values":[{"title":"IC₅₀ values (nM) of Ouabain"}]},"mark":{"type":"text","font":"Liberation Serif","fontWeight":"bold","fontSize":17,"color":"white"},"encoding":{"x":{"field":"title","type":"nominal","axis":null},"y":{"field":"title","type":"nominal","axis":null},"text":{"field":"title"}}}
]},
{"data":{"name":"cells"},"transform":[{"filter":"datum.table==='Peruvoside'"}],"layer":[
{"mark":{"type":"rect"},"encoding":{"x":{"field":"col","type":"nominal","sort":null,"scale":{"domain":["Cell lines","24h","48h"],"range":[218,516],"paddingInner":0.02,"paddingOuter":0},"axis":null},"y":{"field":"row","type":"nominal","scale":{"domain":["Cell lines","KG1a","K562"],"range":[632,735],"paddingInner":0.06,"paddingOuter":0},"axis":null},"fill":{"condition":{"test":"datum.row==='KG1a'","value":"#E7EDF7"},"value":"#CCDCEC"}}},
{"mark":{"type":"text","font":"Liberation Serif","fontSize":16,"color":"#111111"},"encoding":{"x":{"field":"col","type":"nominal","axis":null},"y":{"field":"row","type":"nominal","axis":null},"text":{"field":"text"}}}
]},
{"data":{"name":"cells"},"transform":[{"filter":"datum.table==='Digitoxin'"}],"layer":[
{"mark":{"type":"rect"},"encoding":{"x":{"field":"col","type":"nominal","sort":null,"scale":{"domain":["Cell lines","24h","48h"],"range":[218,516],"paddingInner":0.02,"paddingOuter":0},"axis":null},"y":{"field":"row","type":"nominal","scale":{"domain":["Cell lines","KG1a","K562"],"range":[777,880],"paddingInner":0.06,"paddingOuter":0},"axis":null},"fill":{"condition":{"test":"datum.row==='KG1a'","value":"#E7EDF7"},"value":"#CCDCEC"}}},
{"mark":{"type":"text","font":"Liberation Serif","fontSize":16,"color":"#111111"},"encoding":{"x":{"field":"col","type":"nominal","axis":null},"y":{"field":"row","type":"nominal","axis":null},"text":{"field":"text"}}}
]},
{"data":{"name":"cells"},"transform":[{"filter":"datum.table==='Ouabain'"}],"layer":[
{"mark":{"type":"rect"},"encoding":{"x":{"field":"col","type":"nominal","sort":null,"scale":{"domain":["Cell lines","24h","48h"],"range":[218,516],"paddingInner":0.02,"paddingOuter":0},"axis":null},"y":{"field":"row","type":"nominal","scale":{"domain":["Cell lines","KG1a","K562"],"range":[914,1016],"paddingInner":0.06,"paddingOuter":0},"axis":null},"fill":{"condition":{"test":"datum.row==='KG1a'","value":"#E7EDF7"},"value":"#CCDCEC"}}},
{"mark":{"type":"text","font":"Liberation Serif","fontSize":16,"color":"#111111"},"encoding":{"x":{"field":"col","type":"nominal","axis":null},"y":{"field":"row","type":"nominal","axis":null},"text":{"field":"text"}}}
]}
],
"resolve":{"scale":{"x":"independent","y":"independent","shape":"independent","strokeWidth":"independent"},"axis":{"x":"independent","y":"independent"},"legend":{"shape":"independent"}}}
